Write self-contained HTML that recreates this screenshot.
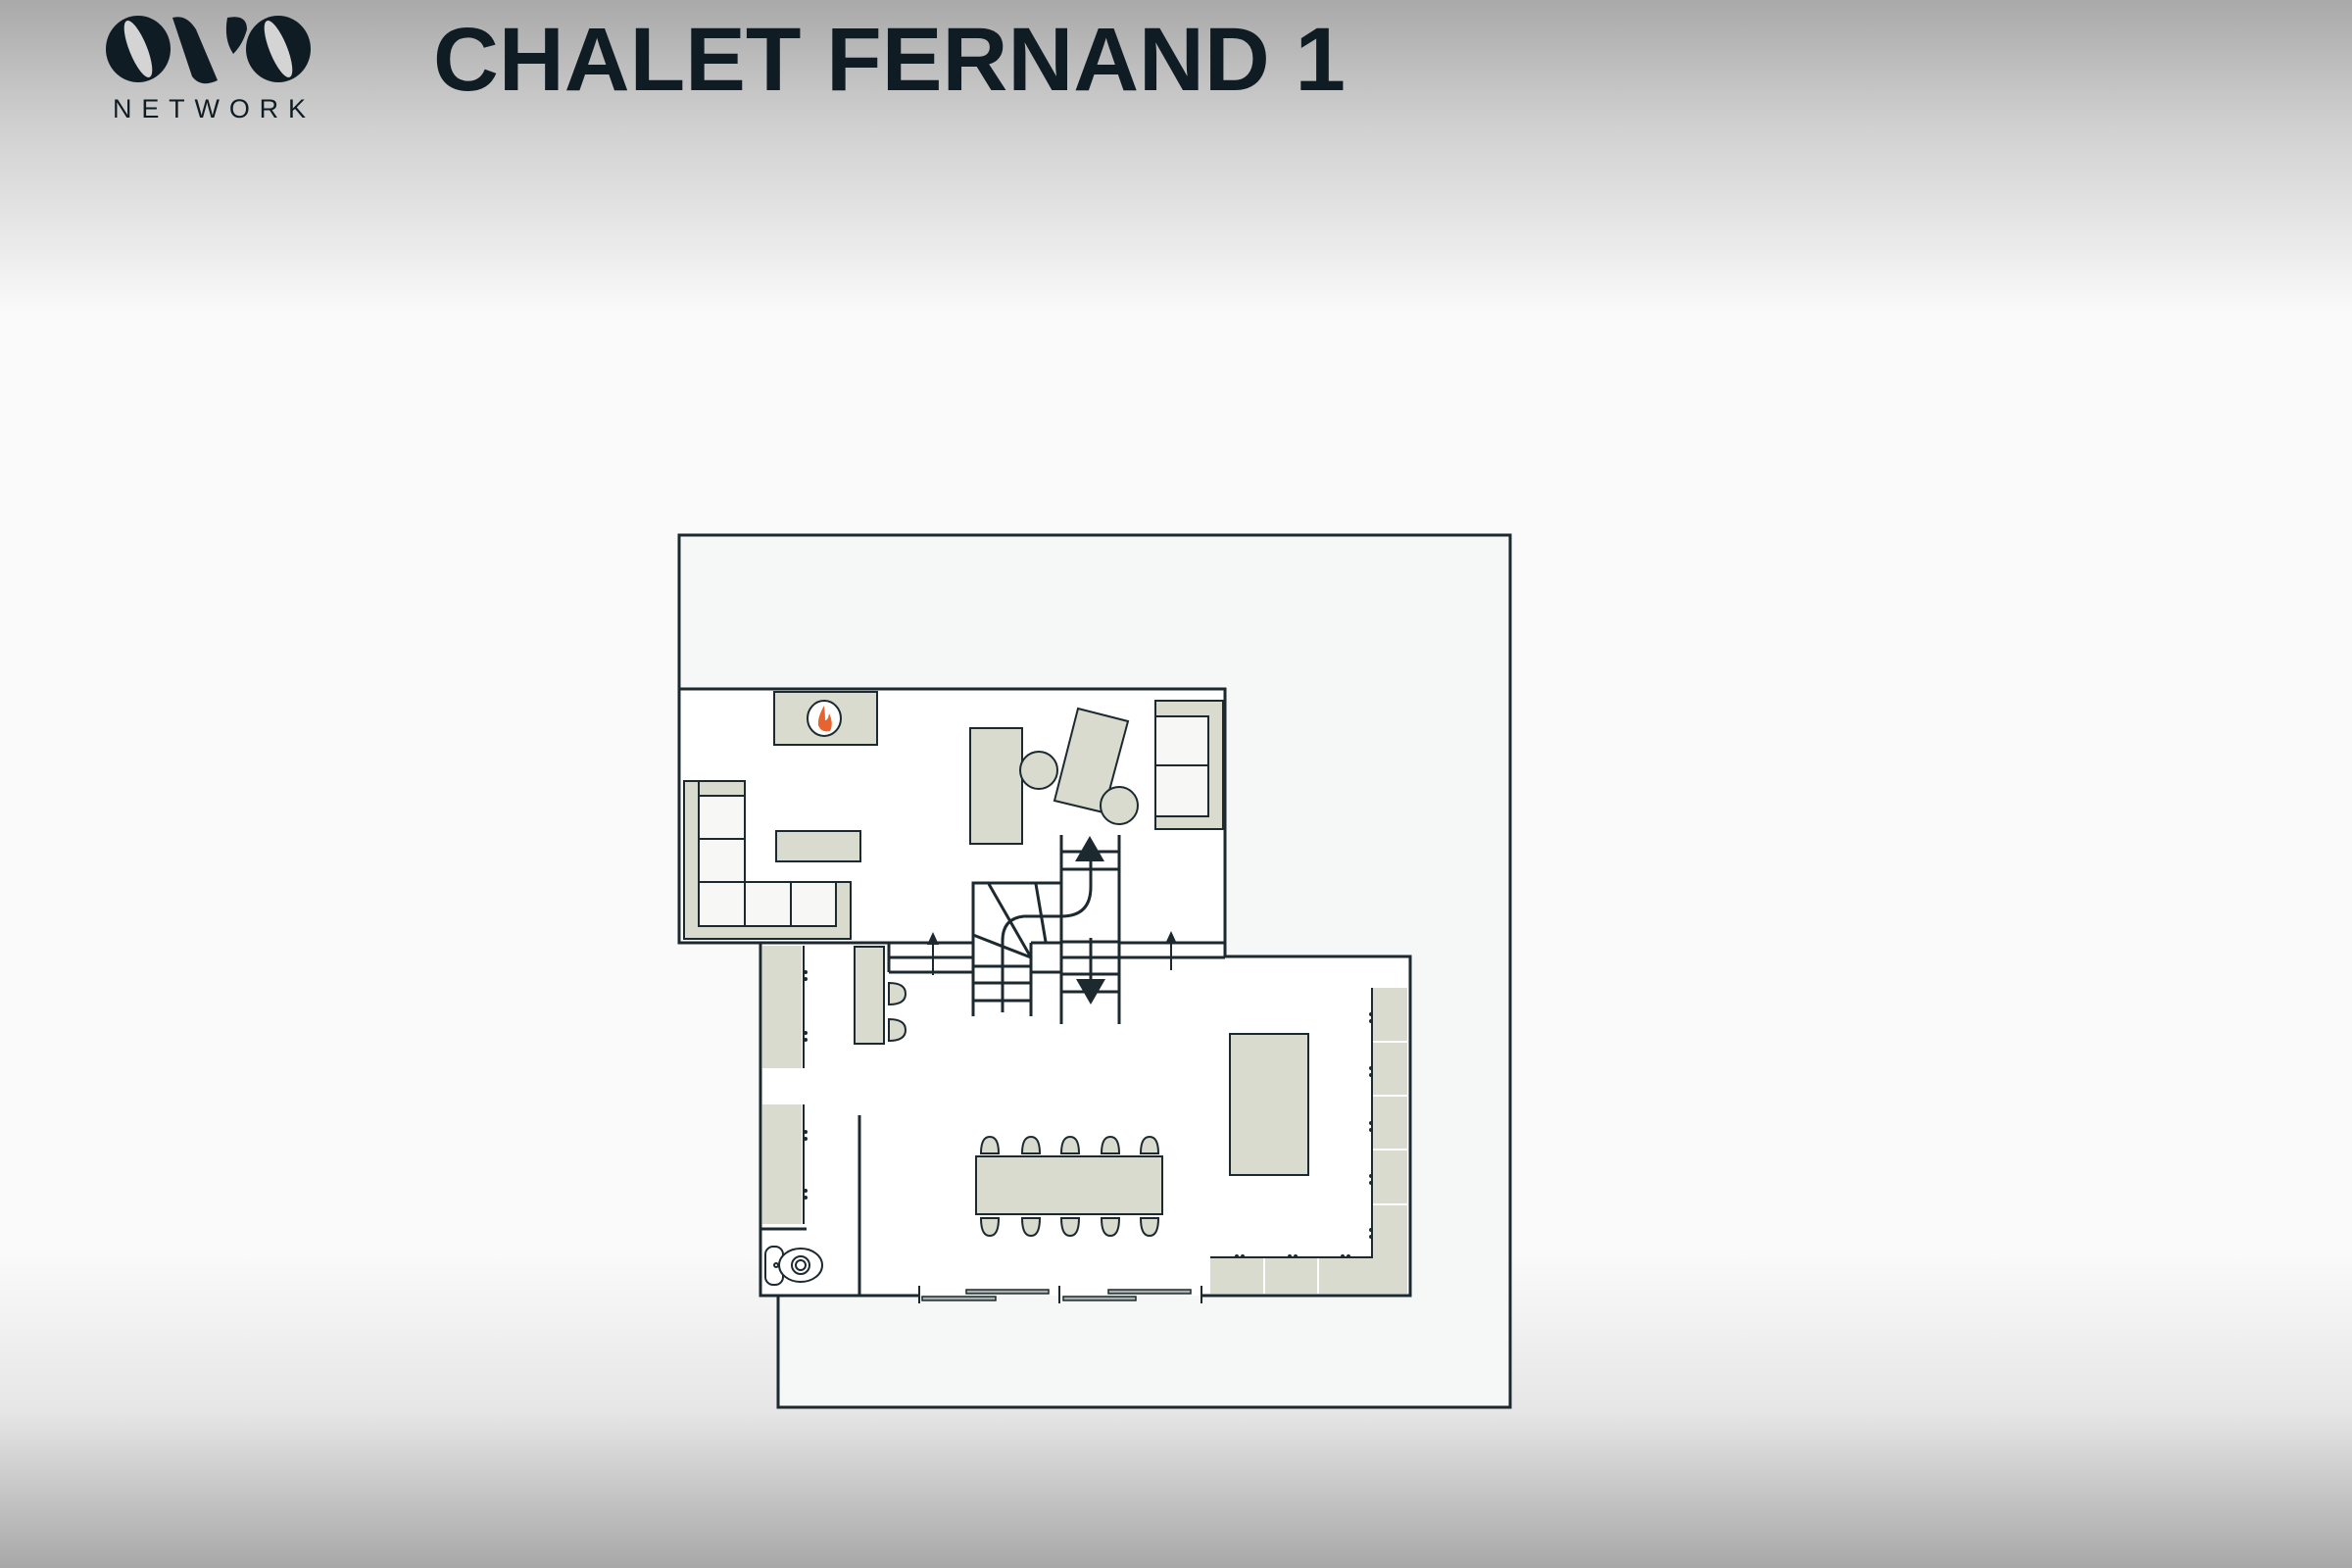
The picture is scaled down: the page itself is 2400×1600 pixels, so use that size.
<!DOCTYPE html>
<html><head><meta charset="utf-8"><style>
html,body{margin:0;padding:0;width:2400px;height:1600px;overflow:hidden}
svg{display:block}
</style></head><body>
<svg width="2400" height="1600" viewBox="0 0 2400 1600" xmlns="http://www.w3.org/2000/svg">
<defs>
<linearGradient id="bg" x1="0" y1="0" x2="0" y2="1">
<stop offset="0" stop-color="#a9a9a9"/>
<stop offset="0.08" stop-color="#d0d0d0"/>
<stop offset="0.2" stop-color="#fafafa"/>
<stop offset="0.8" stop-color="#fafafa"/>
<stop offset="0.9" stop-color="#e6e6e6"/>
<stop offset="1" stop-color="#a8a8a8"/>
</linearGradient>
</defs>
<rect width="2400" height="1600" fill="url(#bg)"/>

<!-- Logo -->
<g fill="#0f1c24">
<ellipse cx="141" cy="50" rx="33" ry="34"/>
<ellipse cx="284" cy="50" rx="33" ry="34"/>
<path d="M176 18 Q190 14 200 30 L222 82 Q205 90 196 78 Z"/>
<path d="M232 18 Q252 14 252 30 Q248 45 238 55 Q228 40 232 18 Z"/>
</g>
<g fill="#d4d4d4">
<ellipse cx="141" cy="50" rx="9" ry="31" transform="rotate(-22 141 50)"/>
<ellipse cx="284" cy="50" rx="9" ry="31" transform="rotate(-22 284 50)"/>
</g>
<text x="115" y="120" font-family="Liberation Sans, sans-serif" font-size="27" fill="#0f1c24" textLength="197" lengthAdjust="spacing">NETWORK</text>

<!-- Title -->
<text x="442" y="92" font-family="Liberation Sans, sans-serif" font-weight="bold" font-size="92" fill="#0f1c24" textLength="931" lengthAdjust="spacingAndGlyphs">CHALET FERNAND 1</text>

<!-- Lot -->
<path d="M693 546 H1541 V1436 H794 V1321 H776 V961 H693 Z" fill="#f6f7f7" stroke="#1c2a30" stroke-width="3"/>
<!-- Rooms -->
<path d="M693 703 H1250 V976 H1439 V1322 H776 V962 H693 Z" fill="#ffffff"/>
<g fill="none" stroke="#1c2a30" stroke-width="3">
<path d="M693 703 H1250 V976 H1439 V1322 H1226"/>
<path d="M938 1322 H776 V962 H693 V703"/>
<path d="M693 962 H907"/>
<path d="M1144 962 H1250"/>
<path d="M1081 1322 V1322"/>
</g>

<!-- furniture fill style -->
<g fill="#d9dbcf" stroke="#1c2a30" stroke-width="2">
<!-- fireplace -->
<rect x="790" y="706" width="105" height="54"/>
<!-- L sofa -->
<path d="M698 797 H713 V945 H853 V900 H868 V958 H698 Z"/>
<rect x="713" y="797" width="47" height="15"/>
<rect x="713" y="812" width="47" height="44" fill="#f7f7f5"/>
<rect x="713" y="856" width="47" height="44" fill="#f7f7f5"/>
<rect x="713" y="900" width="47" height="45" fill="#f7f7f5"/>
<rect x="760" y="900" width="47" height="45" fill="#f7f7f5"/>
<rect x="807" y="900" width="46" height="45" fill="#f7f7f5"/>
<!-- coffee table -->
<rect x="792" y="848" width="86" height="31"/>
<!-- desk -->
<rect x="990" y="743" width="53" height="118"/>
<circle cx="1060" cy="786" r="19"/>
<polygon points="1100,723 1151,736 1126,829 1076,817"/>
<circle cx="1142" cy="822" r="19"/>
<!-- right sofa -->
<rect x="1179" y="715" width="69" height="131"/>
<rect x="1179" y="731" width="54" height="50" fill="#f7f7f5"/>
<rect x="1179" y="781" width="54" height="52" fill="#f7f7f5"/>
<!-- left counters -->
<rect x="778" y="965" width="40" height="125" stroke="none"/>
<rect x="778" y="1127" width="40" height="122" stroke="none"/>
<!-- bar -->
<rect x="872" y="966" width="30" height="99"/>
<!-- island -->
<rect x="1255" y="1055" width="80" height="144"/>
<!-- dining table -->
<rect x="996" y="1180" width="190" height="59"/>
</g>
<!-- fireplace icon -->
<ellipse cx="841" cy="733" rx="17" ry="18" fill="#fff" stroke="#1c2a30" stroke-width="2"/>
<path d="M841 720 Q834 732 835 740 Q838 748 847 746 Q851 738 846 728 Q845 735 842 735 Q842 728 841 720Z" fill="#e8642f"/>

<!-- counters right & bottom -->
<g fill="#d9dbcf">
<rect x="1400" y="1008" width="36" height="312"/>
<rect x="1235" y="1283" width="165" height="37"/>
</g>
<g stroke="#ffffff" stroke-width="2">
<line x1="1400" y1="1063" x2="1436" y2="1063"/>
<line x1="1400" y1="1118" x2="1436" y2="1118"/>
<line x1="1400" y1="1173" x2="1436" y2="1173"/>
<line x1="1400" y1="1229" x2="1436" y2="1229"/>
<line x1="1290" y1="1283" x2="1290" y2="1320"/>
<line x1="1345" y1="1283" x2="1345" y2="1320"/>
</g>
<g stroke="#1c2a30" stroke-width="2" fill="none">
<path d="M1400 1008 V1283 H1235"/>
<line x1="820" y1="965" x2="820" y2="1090"/>
<line x1="820" y1="1127" x2="820" y2="1249"/>
<line x1="776" y1="1254" x2="823" y2="1254" stroke-width="3"/>
<line x1="877" y1="1138" x2="877" y2="1322" stroke-width="3"/>
</g>
<g fill="#1c2a30">
<circle cx="822" cy="992" r="2"/><circle cx="822" cy="999" r="2"/>
<circle cx="822" cy="1054" r="2"/><circle cx="822" cy="1061" r="2"/>
<circle cx="822" cy="1155" r="2"/><circle cx="822" cy="1162" r="2"/>
<circle cx="822" cy="1215" r="2"/><circle cx="822" cy="1222" r="2"/>
<circle cx="1399" cy="1035" r="2"/><circle cx="1399" cy="1042" r="2"/>
<circle cx="1399" cy="1090" r="2"/><circle cx="1399" cy="1097" r="2"/>
<circle cx="1399" cy="1146" r="2"/><circle cx="1399" cy="1153" r="2"/>
<circle cx="1399" cy="1200" r="2"/><circle cx="1399" cy="1207" r="2"/>
<circle cx="1399" cy="1255" r="2"/><circle cx="1399" cy="1262" r="2"/>
<circle cx="1262" cy="1282" r="2"/><circle cx="1268" cy="1282" r="2"/>
<circle cx="1316" cy="1282" r="2"/><circle cx="1322" cy="1282" r="2"/>
<circle cx="1370" cy="1282" r="2"/><circle cx="1376" cy="1282" r="2"/>
</g>

<!-- toilet -->
<g fill="#fff" stroke="#1c2a30" stroke-width="2">
<rect x="781" y="1272" width="18" height="39" rx="8"/>
<ellipse cx="817" cy="1291" rx="22" ry="17"/>
<circle cx="817" cy="1291" r="9"/>
<circle cx="817" cy="1291" r="5"/>
<circle cx="792" cy="1291" r="2"/>
</g>

<!-- stools by bar -->
<g fill="#d9dbcf" stroke="#1c2a30" stroke-width="2">
<path d="M907 1003 Q924 1003 924 1014 Q924 1025 907 1025 Z"/>
<path d="M907 1040 Q924 1040 924 1051 Q924 1062 907 1062 Z"/>
</g>

<!-- dining chairs -->
<g fill="#d9dbcf" stroke="#1c2a30" stroke-width="2">
<path d="M1001 1177 Q1001 1160 1010 1160 Q1019 1160 1019 1177 Z"/>
<path d="M1043 1177 Q1043 1160 1052 1160 Q1061 1160 1061 1177 Z"/>
<path d="M1083 1177 Q1083 1160 1092 1160 Q1101 1160 1101 1177 Z"/>
<path d="M1124 1177 Q1124 1160 1133 1160 Q1142 1160 1142 1177 Z"/>
<path d="M1164 1177 Q1164 1160 1173 1160 Q1182 1160 1182 1177 Z"/>
<path d="M1001 1243 Q1001 1261 1010 1261 Q1019 1261 1019 1243 Z"/>
<path d="M1043 1243 Q1043 1261 1052 1261 Q1061 1261 1061 1243 Z"/>
<path d="M1083 1243 Q1083 1261 1092 1261 Q1101 1261 1101 1243 Z"/>
<path d="M1124 1243 Q1124 1261 1133 1261 Q1142 1261 1142 1243 Z"/>
<path d="M1164 1243 Q1164 1261 1173 1261 Q1182 1261 1182 1243 Z"/>
</g>

<!-- sliding doors -->
<g stroke="#1c2a30" stroke-width="2">
<line x1="938" y1="1312" x2="938" y2="1330"/>
<line x1="1081" y1="1312" x2="1081" y2="1330"/>
<line x1="1226" y1="1312" x2="1226" y2="1330"/>
</g>
<g fill="#a9aea6" stroke="#1c2a30" stroke-width="1.5">
<rect x="986" y="1316" width="84" height="4"/>
<rect x="941" y="1323" width="75" height="4"/>
<rect x="1131" y="1316" width="84" height="4"/>
<rect x="1085" y="1323" width="74" height="4"/>
</g>

<!-- corridor & stairs -->
<g fill="none" stroke="#1c2a30" stroke-width="3">
<path d="M907 962 H993 M907 977 H993 M907 992 H993 M907 962 V992"/>
<path d="M1142 962 H1250 M1142 977 H1250"/>
<line x1="952" y1="962" x2="952" y2="995" stroke-width="2"/>
<line x1="1195" y1="960" x2="1195" y2="990" stroke-width="2"/>
<!-- left stair -->
<path d="M993 1037 V901 H1083"/>
<line x1="1052" y1="962" x2="1052" y2="1037"/>
<line x1="1009" y1="902" x2="1052" y2="977"/>
<line x1="1057" y1="902" x2="1067" y2="961"/>
<line x1="993" y1="954" x2="1052" y2="977"/>
<path d="M1052 962 H1083 M1052 992 H1083"/>
<path d="M993 986 H1052 M993 1003 H1052 M993 1021 H1052"/>
<path d="M1113 879 V905 Q1113 935 1083 935 L1045 935 Q1023 937 1023 960 V1033"/>
<!-- right stair -->
<line x1="1083" y1="852" x2="1083" y2="1045"/>
<line x1="1142" y1="852" x2="1142" y2="1045"/>
<path d="M1083 869 H1142 M1083 887 H1142 M1083 961 H1142 M1083 977 H1142 M1083 994 H1142 M1083 1012 H1142"/>
<line x1="1113" y1="957" x2="1113" y2="1000"/>
</g>
<g fill="#1c2a30">
<polygon points="1112,853 1097,879 1127,879"/>
<polygon points="1113,1025 1098,999 1128,999"/>
<polygon points="952,951 946,964 958,964"/>
<polygon points="1195,950 1189,963 1201,963"/>
</g>
</svg>
</body></html>
